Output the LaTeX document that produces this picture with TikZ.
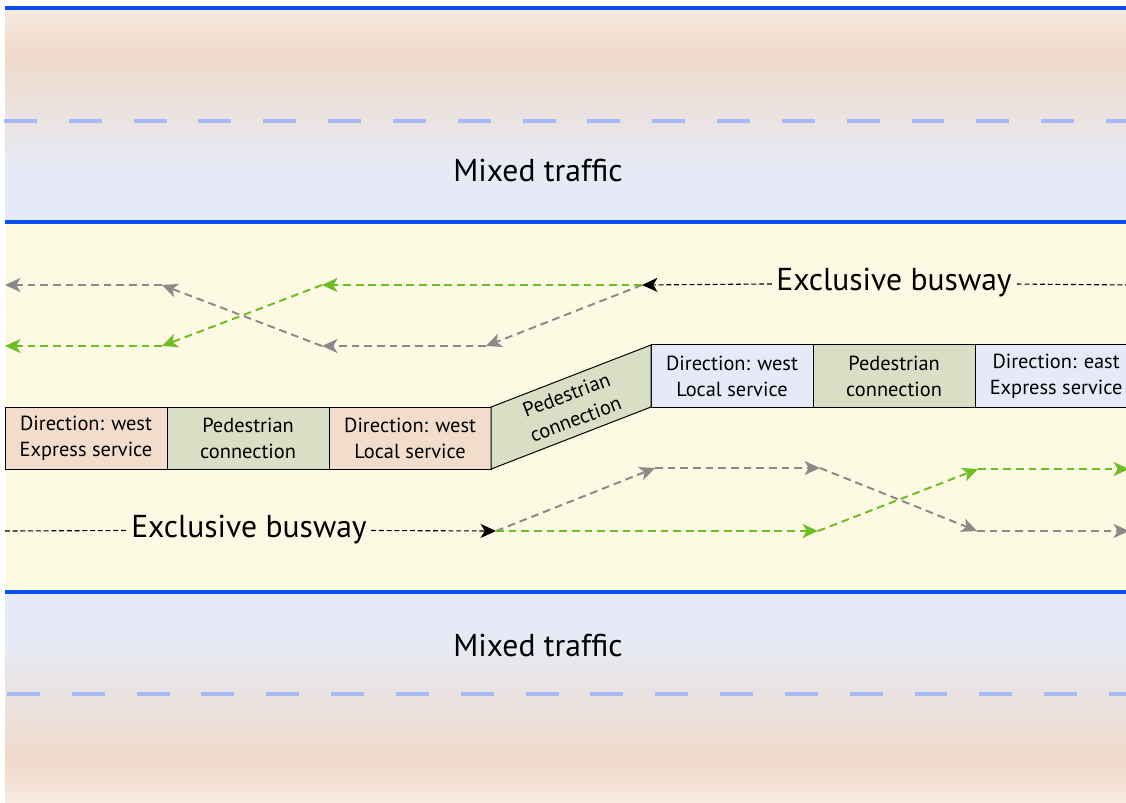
\documentclass[tikz,border=0pt]{standalone}
\usepackage{fontspec}
\setmainfont{PT Sans}
\usetikzlibrary{positioning,arrows.meta}

\definecolor{roadblue}{HTML}{0A4EF2}
\definecolor{markblue}{HTML}{A6BBF6}
\definecolor{peachA}{HTML}{F7EADF}
\definecolor{peachB}{HTML}{F0DACA}
\definecolor{lilac}{HTML}{E6EAF6}
\definecolor{busyellow}{HTML}{FDFAE3}
\definecolor{boxpeach}{HTML}{F2DDCC}
\definecolor{boxblue}{HTML}{E6EAF8}
\definecolor{walkgreen}{HTML}{D9DFC4}
\definecolor{arrgray}{HTML}{8A8A8A}
\definecolor{arrgreen}{HTML}{6EBD25}

\begin{document}
\begin{tikzpicture}[
  x=0.025cm, y=-0.025cm,
  every node/.style={font=\fontsize{14.5}{18.5}\selectfont, align=center},
  bigtext/.style={font=\fontsize{22.5}{26}\selectfont, inner sep=3pt},
  road/.style={draw=roadblue, line width=2.6pt},
  lanemark/.style={draw=markblue, line width=3.5pt, dash pattern=on 23.4pt off 22.7pt},
  slot/.style={draw=black, line width=0.7pt, outer sep=0pt, inner sep=1pt,
    minimum width=4.05cm, minimum height=1.55cm},
  westslot/.style={slot, fill=boxpeach},
  eastslot/.style={slot, fill=boxblue},
  walkslot/.style={slot, fill=walkgreen},
  busline/.style={draw=black, line width=0.8pt, dash pattern=on 3.5pt off 2pt},
  tip/.style={-{Stealth[length=11pt, width=10pt, inset=3pt]}},
  grayarr/.style={tip, draw=arrgray, line width=1.4pt, dash pattern=on 5.5pt off 3.5pt},
  greenarr/.style={tip, draw=arrgreen, line width=1.4pt, dash pattern=on 5.5pt off 3.5pt}
]
\useasboundingbox (0,0) rectangle (1126,803);
\begin{scope}
\clip (0,0) rectangle (1126,803);

% road bands
\shade[top color=peachA, bottom color=peachB] (5,8) rectangle (1126,55);
\shade[top color=peachB, bottom color=lilac] (5,55) rectangle (1126,170);
\fill[lilac] (5,170) rectangle (1126,222);
\fill[busyellow] (5,222) rectangle (1126,592);
\fill[lilac] (5,592) rectangle (1126,640);
\shade[top color=lilac, bottom color=peachB] (5,640) rectangle (1126,760);
\shade[top color=peachB, bottom color=peachA] (5,760) rectangle (1126,803);

\draw[lanemark] (4,121) -- (1130,121);
\draw[lanemark] (7,694) -- (1130,694);
\draw[road] (5,8) -- (1130,8);
\draw[road] (5,222) -- (1130,222);
\draw[road] (5,592) -- (1130,592);

\node[bigtext] (mixN) at (538,170) {Mixed traffic};
\node[bigtext] (mixS) at (538,645) {Mixed traffic};

% stations
\node[westslot, anchor=north west] (w1) at (5,407) {Direction: west\\Express service};
\node[walkslot, right=0pt of w1] (p1) {Pedestrian\\connection};
\node[westslot, right=0pt of p1] (w2) {Direction: west\\Local service};
\node[eastslot, anchor=south west] (e1) at (651,407) {Direction: west\\Local service};
\node[walkslot, right=0pt of e1] (p2) {Pedestrian\\connection};
\node[eastslot, right=0pt of p2] (e2) {Direction: east\\Express service};
\filldraw[fill=walkgreen, draw=black, line width=0.7pt]
  (w2.north east) -- (e1.north west) -- (e1.south west) -- (w2.south east) -- cycle;
\node[rotate=20.8, inner sep=0pt] (p0) at (571,407) {Pedestrian\\connection};

% westbound busway
\node[bigtext] (busN) at (894,283) {Exclusive busway};
\coordinate (nR) at (1130,285);
\coordinate (wA) at (642,285);
\coordinate (wB) at (486,346);
\coordinate (wC) at (322,346);
\coordinate (wD) at (162,285);
\coordinate (wE) at (5,285);
\coordinate (wF) at (322,285);
\coordinate (wG) at (162,346);
\coordinate (wH) at (5,346);
\draw[busline] (nR) -- (busN);
\draw[busline, tip] (busN) -- (wA);
\draw[grayarr] (wA) -- (wB);
\draw[grayarr] (wB) -- (wC);
\draw[grayarr] (wC) -- (wD);
\draw[grayarr] (wD) -- (wE);
\draw[greenarr] (wA) -- (wF);
\draw[greenarr] (wF) -- (wG);
\draw[greenarr] (wG) -- (wH);

% eastbound busway
\node[bigtext] (busS) at (249,530) {Exclusive busway};
\coordinate (sL) at (5,531);
\coordinate (sA) at (496,531);
\coordinate (sB) at (655,468);
\coordinate (sC) at (820,468);
\coordinate (sD) at (977,531);
\coordinate (sE) at (1129,531);
\coordinate (sF) at (818,531);
\coordinate (sG) at (978,469);
\coordinate (sH) at (1129,469);
\draw[busline] (sL) -- (busS);
\draw[busline, tip] (busS) -- (sA);
\draw[grayarr] (sA) -- (sB);
\draw[grayarr] (sB) -- (sC);
\draw[grayarr] (sC) -- (sD);
\draw[grayarr] (sD) -- (sE);
\draw[greenarr] (sA) -- (sF);
\draw[greenarr] (sF) -- (sG);
\draw[greenarr] (sG) -- (sH);
\end{scope}
\end{tikzpicture}
\end{document}
